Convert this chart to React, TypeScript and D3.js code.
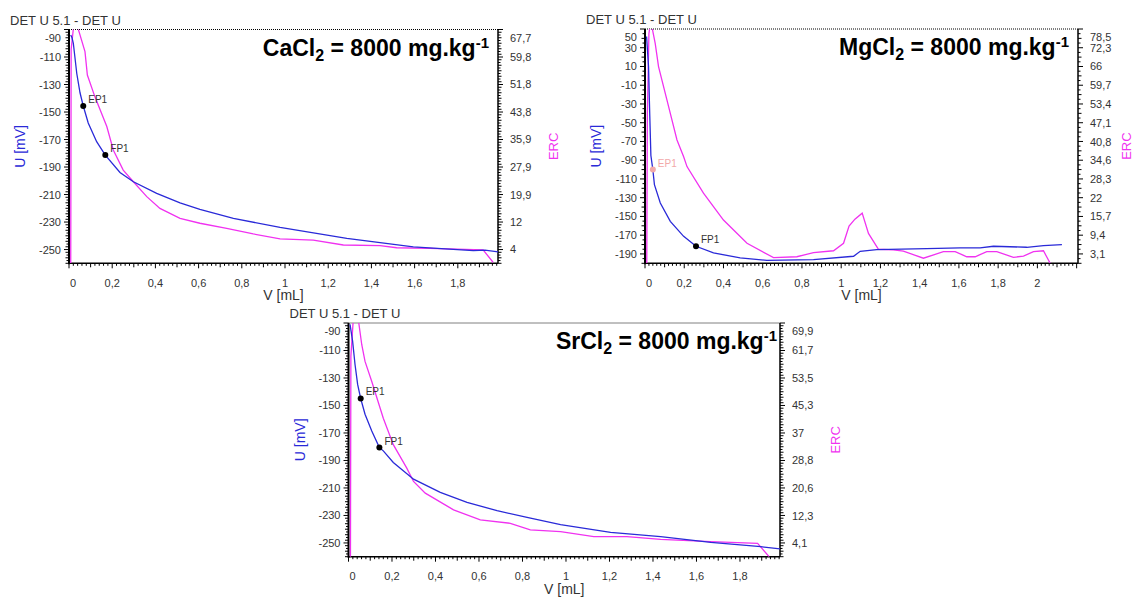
import React from "react";
import * as d3 from "d3";

type Pt = [number, number];

// CaCl2 titration: [V mL, U mV] and [V mL, ERC]
const caPotential: Pt[] = [
  [0.008, -94], [0.014, -96], [0.02, -100], [0.036, -122], [0.051, -136], [0.066, -145.6],
  [0.089, -158], [0.128, -171.6], [0.168, -181.3], [0.236, -194], [0.298, -200.7],
  [0.406, -209.1], [0.514, -216], [0.606, -220.8], [0.761, -227.3], [0.977, -233.9],
  [1.286, -241.9], [1.594, -248], [1.872, -250.8], [1.926, -250.4], [1.99, -251.8],
];
const caErc: Pt[] = [
  [0.008, 0], [0.01, 62], [0.022, 69], [0.036, 69], [0.042, 68], [0.074, 61.3], [0.085, 54.5],
  [0.12, 48.2], [0.175, 39.6], [0.205, 32.8], [0.251, 27], [0.298, 23.6], [0.36, 19.3],
  [0.421, 15.9], [0.514, 13], [0.606, 11.6], [0.73, 10.1], [0.853, 8.5], [0.977, 7.1],
  [1.131, 6.7], [1.27, 5.3], [1.44, 5.1], [1.517, 4.5], [1.671, 4.3], [1.917, 3.9], [1.963, 0.3],
];
const caUTicks = [-250, -230, -210, -190, -170, -150, -130, -110, -90];
const caErcTicks = [4, 12, 19.9, 27.9, 35.9, 43.8, 51.8, 59.8, 67.7];
const caXTicks = [0, 0.2, 0.4, 0.6, 0.8, 1, 1.2, 1.4, 1.6, 1.8];
const caEP: Pt = [0.066, -145.6];
const caFP: Pt = [0.168, -181.3];

// MgCl2 titration
const mgPotential: Pt[] = [
  [0.008, 42], [0.018, 10], [0.024, -40], [0.03, -85], [0.04, -100], [0.048, -116],
  [0.078, -135.6], [0.129, -155.2], [0.197, -171.2], [0.26, -181.8], [0.349, -188.9],
  [0.485, -194.2], [0.621, -196.8], [0.859, -196], [1.063, -192.5], [1.097, -187.2],
  [1.181, -185.4], [1.436, -184.3], [1.606, -183.6], [1.708, -183.6], [1.776, -181.8],
  [1.946, -182.9], [2.031, -181.1], [2.125, -180],
];
const mgErc: Pt[] = [
  [0.009, 0], [0.012, 50], [0.02, 77], [0.027, 80], [0.036, 79], [0.052, 73.7], [0.069, 65.9],
  [0.112, 54.7], [0.163, 41.3], [0.197, 35.7], [0.214, 32.4], [0.298, 23.5], [0.4, 14.5],
  [0.52, 6.7], [0.655, 1.9], [0.774, 2.2], [0.859, 3.6], [0.961, 4.2], [1.012, 6.7],
  [1.04, 12.5], [1.07, 14.8], [1.107, 16.8], [1.139, 10], [1.19, 4.7], [1.266, 4.5],
  [1.317, 4.1], [1.419, 1.7], [1.521, 3.9], [1.581, 3.9], [1.64, 2.2], [1.683, 2.2],
  [1.742, 3.9], [1.793, 3.9], [1.878, 2], [1.929, 2.4], [1.98, 3.9], [2.031, 4.2], [2.065, 0],
];
const mgUTicks = [-190, -170, -150, -130, -110, -90, -70, -50, -30, -10, 10, 30, 50];
const mgErcTicks = [3.1, 9.4, 15.7, 22, 28.3, 34.6, 40.8, 47.1, 53.4, 59.7, 66, 72.3, 78.5];
const mgXTicks = [0, 0.2, 0.4, 0.6, 0.8, 1, 1.2, 1.4, 1.6, 1.8, 2];
const mgEP: Pt = [0.04, -100];
const mgFP: Pt = [0.26, -181.8];

// SrCl2 titration
const srPotential: Pt[] = [
  [0.007, -91], [0.019, -103.4], [0.03, -120.2], [0.042, -134.7], [0.056, -144.9],
  [0.076, -156.4], [0.107, -168.5], [0.142, -180.6], [0.16, -183], [0.206, -191.5],
  [0.299, -203.6], [0.422, -213.2], [0.545, -220.5], [0.683, -226.5], [0.821, -231.4],
  [0.975, -236.7], [1.205, -242.3], [1.435, -245.4], [1.666, -249.6], [1.896, -252.7],
  [1.988, -254.4],
];
const srErc: Pt[] = [
  [0.009, 0], [0.011, 60], [0.022, 71], [0.03, 71.5], [0.045, 71], [0.061, 63.4],
  [0.076, 58.4], [0.107, 52.4], [0.16, 41.4], [0.206, 33.5], [0.268, 26.5], [0.299, 22.5],
  [0.353, 19], [0.483, 14], [0.606, 11], [0.744, 10], [0.836, 8], [0.975, 7.5],
  [1.128, 6], [1.28, 6], [1.435, 5.2], [1.666, 4.5], [1.881, 4], [1.934, 0],
];
const srUTicks = [-250, -230, -210, -190, -170, -150, -130, -110, -90];
const srErcTicks = [4.1, 12.3, 20.6, 28.8, 37, 45.3, 53.5, 61.7, 69.9];
const srXTicks = [0, 0.2, 0.4, 0.6, 0.8, 1, 1.2, 1.4, 1.6, 1.8];
const srEP: Pt = [0.056, -144.9];
const srFP: Pt = [0.142, -180.6];

const BLUE = "#2a2ad8";
const MAGENTA = "#f032f0";
const FONT = "'Liberation Sans', Arial, sans-serif";

const fmt = (v: number) => String(v).replace(".", ",");

interface PanelProps {
  id: string;
  left: number; right: number; top: number; bottom: number;
  xMax: number; uDomain: Pt; ercMax: number; uMinor: number;
  uTicks: number[]; ercTicks: number[]; xTicks: number[];
  potential: Pt[]; erc: Pt[]; ep: Pt; fp: Pt; epColor: string;
  salt: string; titleRight: number; ercGap: number;
}

function Panel(p: PanelProps) {
  const x = d3.scaleLinear().domain([0, p.xMax]).range([p.left, p.right]);
  const y = d3.scaleLinear().domain(p.uDomain).range([p.bottom, p.top]);
  const y2 = d3.scaleLinear().domain([0, p.ercMax]).range([p.bottom, p.top]);
  const lineU = d3.line<Pt>().x(d => x(d[0])).y(d => y(d[1]));
  const lineE = d3.line<Pt>().x(d => x(d[0])).y(d => y2(d[1]));

  const uMinor = d3.range(p.uDomain[0], p.uDomain[1] + 0.001, p.uMinor);
  const xMinor = d3.range(0, p.xMax, 0.02);
  const midX = (p.left + p.right) / 2;
  const midY = (p.top + p.bottom) / 2;

  return (
    <g fontFamily={FONT}>
      <defs>
        <clipPath id={p.id}>
          <rect x={p.left} y={p.top} width={p.right - p.left} height={p.bottom - p.top} />
        </clipPath>
      </defs>
      <text x={p.left - 59} y={p.top - 5} fontSize={13} fill="#333">DET U 5.1 - DET U</text>

      {/* frame */}
      <line x1={p.left} x2={p.right} y1={p.top} y2={p.top} stroke="#000" strokeDasharray="1 1" />
      <line x1={p.left} x2={p.left} y1={p.top} y2={p.bottom + 1} stroke="#000" strokeWidth={2} />
      <line x1={p.left} x2={p.right} y1={p.bottom} y2={p.bottom} stroke="#000" strokeWidth={1.5} />
      <line x1={p.right} x2={p.right} y1={p.top} y2={p.bottom} stroke="#000" strokeWidth={1.5} />

      {/* left and right axis ticks share positions */}
      {uMinor.map((v, i) => {
        const len = p.uTicks.includes(v) ? 5 : i % 2 === 0 ? 3.5 : 2.5;
        return (
          <g key={"u" + i}>
            <line x1={p.left - len} x2={p.left} y1={y(v)} y2={y(v)} stroke="#000" />
            <line x1={p.right} x2={p.right + len} y1={y(v)} y2={y(v)} stroke="#000" />
          </g>
        );
      })}
      {p.uTicks.map(v => (
        <text key={"ul" + v} x={p.left - 8} y={y(v) + 4 + (y(v) - p.top < 3 ? 8 : 0)}
          fontSize={11} textAnchor="end" fill="#333">{v}</text>
      ))}
      {p.ercTicks.map(v => (
        <text key={"el" + v} x={p.right + 12} y={y2(v) + 4 + (y2(v) - p.top < 3 ? 8 : 0)}
          fontSize={11} fill="#333">{fmt(v)}</text>
      ))}

      {/* bottom axis */}
      {xMinor.map((v, i) => {
        const len = i % 10 === 0 ? 5 : i % 5 === 0 ? 4 : 2.5;
        return <line key={"x" + i} x1={x(v)} x2={x(v)} y1={p.bottom} y2={p.bottom + len} stroke="#000" />;
      })}
      {p.xTicks.map(v => (
        <text key={"xl" + v} x={x(v) + (v === 0 ? 4 : 0)} y={p.bottom + 23.5}
          fontSize={11} textAnchor="middle" fill="#333">{fmt(v)}</text>
      ))}

      {/* axis titles */}
      <text transform={`translate(${p.left - 49},${midY}) rotate(-90)`} textAnchor="middle"
        dominantBaseline="central" fontSize={14} fill={BLUE}>U [mV]</text>
      <text transform={`translate(${p.right + p.ercGap},${midY}) rotate(-90)`} textAnchor="middle"
        dominantBaseline="central" fontSize={13} fill={MAGENTA}>ERC</text>
      <text x={midX} y={p.bottom + 37} textAnchor="middle" fontSize={14} fill="#333">V [mL]</text>

      {/* curves */}
      <g clipPath={`url(#${p.id})`}>
        <path d={lineE(p.erc) ?? ""} fill="none" stroke={MAGENTA} strokeWidth={1.3} />
        <path d={lineU(p.potential) ?? ""} fill="none" stroke={BLUE} strokeWidth={1.3} />
      </g>

      {/* end points */}
      <circle cx={x(p.ep[0])} cy={y(p.ep[1])} r={3} fill={p.epColor} />
      <text x={x(p.ep[0]) + 5} y={y(p.ep[1]) - 3} fontSize={10} fill={p.epColor === "#000" ? "#333" : p.epColor}>EP1</text>
      <circle cx={x(p.fp[0])} cy={y(p.fp[1])} r={3} fill="#000" />
      <text x={x(p.fp[0]) + 5} y={y(p.fp[1]) - 3} fontSize={10} fill="#333">FP1</text>

      {/* title */}
      <text x={p.titleRight} y={p.top + 26} textAnchor="end" fontWeight="bold" fontSize={23} fill="#000">
        {p.salt}Cl<tspan fontSize={16} dy={5}>2</tspan>
        <tspan dy={-5}> = 8000 mg.kg</tspan>
        <tspan fontSize={15} dy={-8}>-1</tspan>
      </text>
    </g>
  );
}

export default function App() {
  return (
    <svg width={1134} height={598} style={{ position: "absolute", left: 0, top: 0, background: "#fff" }}>
      <Panel id="ca" left={69} right={498} top={29.5} bottom={263.3} xMax={1.986}
        uDomain={[-260, -90]} ercMax={67.7} uMinor={2}
        uTicks={caUTicks} ercTicks={caErcTicks} xTicks={caXTicks}
        potential={caPotential} erc={caErc} ep={caEP} fp={caFP} epColor="#000"
        salt="Ca" titleRight={489} ercGap={55} />
      <Panel id="mg" left={645} right={1078} top={29} bottom={263.3} xMax={2.207}
        uDomain={[-200, 50]} ercMax={78.5} uMinor={5}
        uTicks={mgUTicks} ercTicks={mgErcTicks} xTicks={mgXTicks}
        potential={mgPotential} erc={mgErc} ep={mgEP} fp={mgFP} epColor="#f2a9a9"
        salt="Mg" titleRight={1069} ercGap={48} />
      <Panel id="sr" left={348.5} right={780} top={323} bottom={556.7} xMax={1.984}
        uDomain={[-260, -90]} ercMax={69.9} uMinor={2}
        uTicks={srUTicks} ercTicks={srErcTicks} xTicks={srXTicks}
        potential={srPotential} erc={srErc} ep={srEP} fp={srFP} epColor="#000"
        salt="Sr" titleRight={777} ercGap={55} />
    </svg>
  );
}
